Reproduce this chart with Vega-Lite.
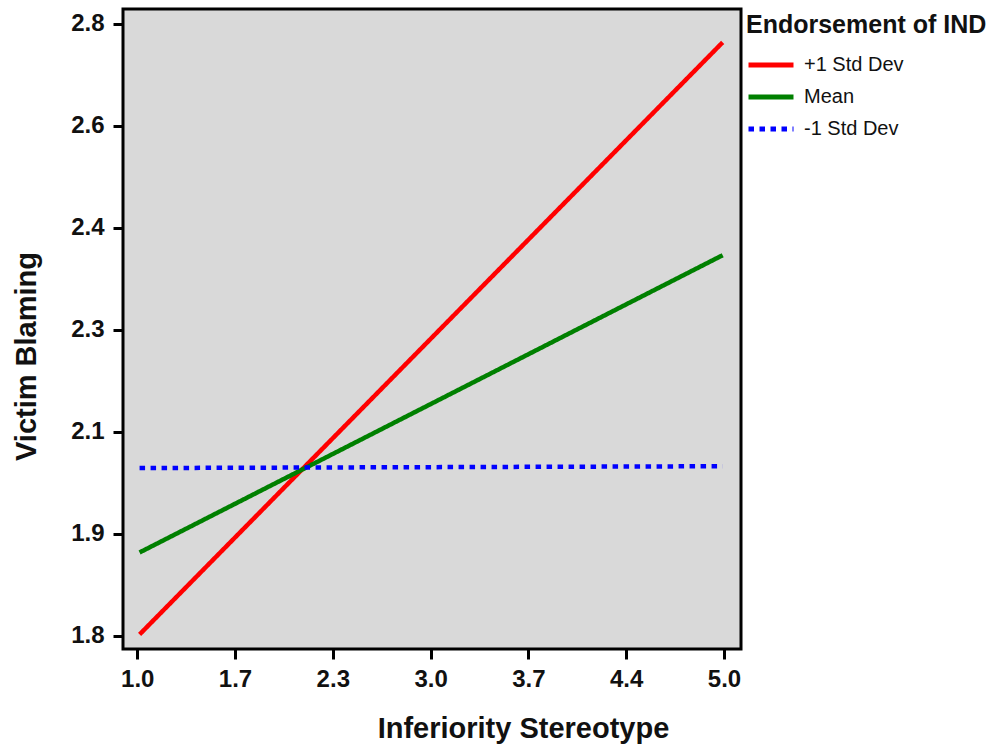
{
  "$schema": "https://vega.github.io/schema/vega-lite/v6.json",
  "autosize": "none",
  "width": 618,
  "height": 640,
  "padding": {"left": 123, "top": 9, "right": 253, "bottom": 100},
  "background": "white",
  "config": {
    "font": "Liberation Sans",
    "view": {"fill": "#d9d9d9", "stroke": "black", "strokeWidth": 3}
  },
  "data": {
    "values": [
      {"group": "+1 Std Dev", "x": 1.016, "y": 1.802},
      {"group": "+1 Std Dev", "x": 4.991, "y": 2.770},
      {"group": "Mean", "x": 1.016, "y": 1.936},
      {"group": "Mean", "x": 4.991, "y": 2.422},
      {"group": "-1 Std Dev", "x": 1.016, "y": 2.074},
      {"group": "-1 Std Dev", "x": 4.991, "y": 2.077}
    ]
  },
  "mark": {"type": "line", "strokeWidth": 4.5, "strokeCap": "butt", "clip": true},
  "encoding": {
    "x": {
      "field": "x", "type": "quantitative",
      "scale": {"domain": [0.903, 5.116], "nice": false, "zero": false},
      "axis": {
        "title": "Inferiority Stereotype",
        "values": [1, 1.6667, 2.3333, 3, 3.6667, 4.3333, 5],
        "labelExpr": "['1.0','1.7','2.3','3.0','3.7','4.4','5.0'][round((datum.value-1)*1.5)]",
        "grid": false, "domain": false,
        "ticks": true, "tickSize": 10, "tickWidth": 3, "tickColor": "black",
        "labelFontSize": 24, "labelFontWeight": "bold", "labelColor": "#111",
        "labelPadding": 8,
        "titleFontSize": 29, "titleFontWeight": "bold", "titleColor": "#111",
        "titlePadding": 23, "titleX": 400
      }
    },
    "y": {
      "field": "y", "type": "quantitative",
      "scale": {"domain": [1.7782, 2.8245], "nice": false, "zero": false},
      "axis": {
        "title": "Victim Blaming",
        "values": [1.8, 1.96667, 2.13333, 2.3, 2.46667, 2.63333, 2.8],
        "labelExpr": "['1.8','1.9','2.1','2.3','2.4','2.6','2.8'][round((datum.value-1.8)*6)]",
        "grid": false, "domain": false,
        "ticks": true, "tickSize": 10, "tickWidth": 3, "tickColor": "black",
        "labelFontSize": 24, "labelFontWeight": "bold", "labelColor": "#111",
        "labelPadding": 9,
        "titleFontSize": 29, "titleFontWeight": "bold", "titleColor": "#111",
        "titlePadding": 29, "titleY": 347
      }
    },
    "color": {
      "field": "group", "type": "nominal",
      "scale": {"domain": ["+1 Std Dev", "Mean", "-1 Std Dev"], "range": ["#ff0000", "#008000", "#0000ff"]},
      "legend": {
        "title": "Endorsement of IND",
        "orient": "none", "legendX": 623, "legendY": 4,
        "titleFontSize": 25, "titleFontWeight": "bold", "titleColor": "#111",
        "titlePadding": 13, "titleLimit": 400,
        "labelFontSize": 20, "labelColor": "#111", "labelOffset": 8,
        "symbolType": "stroke", "symbolSize": 2025, "symbolStrokeWidth": 5,
        "clipHeight": 28, "rowPadding": 4
      }
    },
    "strokeDash": {
      "field": "group", "type": "nominal",
      "scale": {"domain": ["+1 Std Dev", "Mean", "-1 Std Dev"], "range": [[1, 0], [1, 0], [5.5, 5.5]]},
      "legend": {
        "title": "Endorsement of IND",
        "orient": "none", "legendX": 623, "legendY": 4,
        "titleFontSize": 25, "titleFontWeight": "bold", "titleColor": "#111",
        "titlePadding": 13, "titleLimit": 400,
        "labelFontSize": 20, "labelColor": "#111", "labelOffset": 8,
        "symbolType": "stroke", "symbolSize": 2025, "symbolStrokeWidth": 5,
        "clipHeight": 28, "rowPadding": 4
      }
    }
  }
}
